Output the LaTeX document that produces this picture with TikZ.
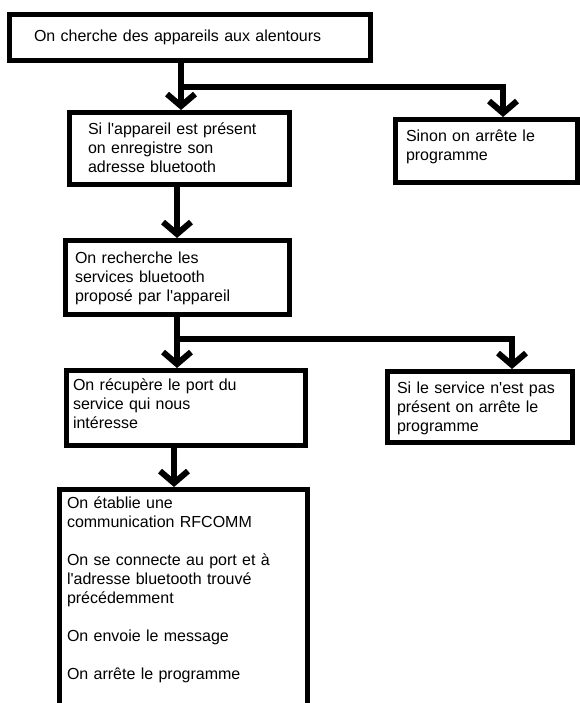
\documentclass[tikz,border=0pt]{standalone}
\usepackage{fontspec}
\newfontfamily\diagfont{Liberation Sans}
\usetikzlibrary{arrows.meta}

\begin{document}
\begin{tikzpicture}[
  x=1pt, y=-1pt,
  box/.style = {draw, line width=5pt, anchor=north west, align=left,
                font=\diagfont\fontsize{16}{19}\selectfont, text height=12pt},
  arr/.style = {line width=6pt, -{Straight Barb[length=12pt, width=28pt]}},
]
\useasboundingbox[fill=white] (0,0) rectangle (579,703);
\node[box, text width=312pt, inner xsep=24.5pt, inner ysep=15.5pt, text depth=3pt] (cherche) at (7,12)
  {On cherche des appareils aux alentours};
\node[box, text width=183pt, inner xsep=18.5pt, inner ysep=10.5pt, text depth=39pt] (present) at (67,110)
  {Si l'appareil est présent\\on enregistre son\\adresse bluetooth};
\node[box, text width=161pt, inner xsep=10.5pt, inner ysep=10.5pt, text depth=30pt] (sinon) at (393,117)
  {Sinon on arrête le\\programme};
\node[box, text width=205pt, inner xsep=9.5pt, inner ysep=10.5pt, text depth=41pt] (services) at (63,238)
  {On recherche les\\services bluetooth\\proposé par l'appareil};
\node[box, text width=226pt, inner xsep=6.5pt, inner ysep=7.5pt, text depth=48pt] (port) at (64,368)
  {On récupère le port du\\service qui nous\\intéresse};
\node[box, text width=166pt, inner xsep=9.5pt, inner ysep=9.5pt, text depth=40pt] (absent) at (385,369)
  {Si le service n'est pas\\présent on arrête le\\programme};
\node[box, text width=233pt, inner xsep=7.5pt, inner ysep=6.5pt, text depth=223pt] (rfcomm) at (57,487)
  {On établie une\\communication RFCOMM\\[19pt]On se connecte au port et à\\l'adresse bluetooth trouvé\\précédemment\\[19pt]On envoie le message\\[19pt]On arrête le programme};
\coordinate (j1) at (181,87);
\coordinate (k1) at (503,87);
\coordinate (j2) at (177,212);
\coordinate (j3) at (177,339);
\coordinate (k3) at (512,339);
\coordinate (j4) at (174,470);
\draw[arr] (cherche.south -| j1) -- (present.north -| j1);
\draw[arr] (j1) -- (k1) -- (sinon.north -| k1);
\draw[arr] (present.south -| j2) -- (services.north -| j2);
\draw[arr] (services.south -| j3) -- (port.north -| j3);
\draw[arr] (j3) -- (k3) -- (absent.north -| k3);
\draw[arr] (port.south -| j4) -- (rfcomm.north -| j4);
\end{tikzpicture}
\end{document}
